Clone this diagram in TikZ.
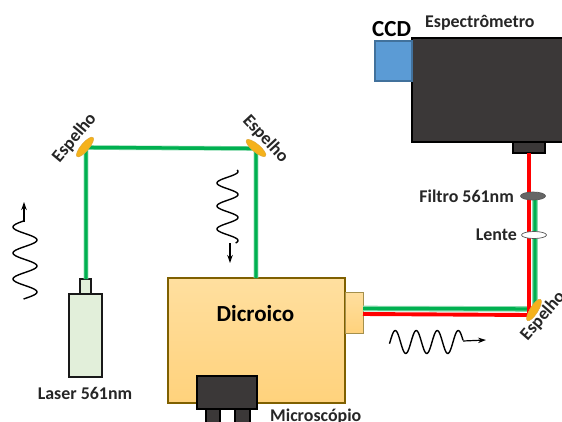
\documentclass[tikz,border=0pt]{standalone}
\usepackage{fontspec}
\setmainfont{Carlito}
\usetikzlibrary{arrows.meta,shapes.geometric}
\definecolor{beamgreen}{HTML}{00B050}
\definecolor{lasergreen}{HTML}{E2EFDA}
\definecolor{darkbox}{HTML}{3B3838}
\definecolor{ccdblue}{HTML}{5B9BD5}
\definecolor{ccdedge}{HTML}{41719C}
\definecolor{mirrorfill}{HTML}{F5B21B}
\definecolor{mirroredge}{HTML}{E0A93A}
\definecolor{goldedge}{HTML}{7F6000}
\definecolor{goldtop}{HTML}{FFDF9F}
\definecolor{goldbot}{HTML}{FFD27C}
\tikzset{
 lbl/.style={font=\bfseries\fontsize{17.9}{19}\selectfont,text=black!85,inner sep=0pt},
 biglbl/.style={font=\bfseries\fontsize{23}{24}\selectfont,text=black,inner sep=0pt},
 box/.style={anchor=north west,minimum width=#1,inner sep=0pt,outer sep=0pt},
 greenbeam/.style={draw=beamgreen,line width=3.4pt},
 redbeam/.style={draw=red,line width=3.9pt},
 mirrorshape/.style={ellipse,fill=mirrorfill,draw=mirroredge,line width=.5pt,minimum width=25pt,minimum height=8pt,inner sep=0pt,outer sep=0pt},
 wave/.style={draw=black,line width=1.4pt,line join=round},
 tip/.style={-{Stealth[length=8pt,width=5.5pt]},draw=black,line width=1.2pt}
}
\begin{document}
\begin{tikzpicture}[x=1pt,y=-1pt]
\useasboundingbox (0,0) rectangle (562,421);
% laser
\node[box=33pt,minimum height=83pt,fill=lasergreen,draw=black!90,line width=1.7pt] (laser) at (69,294) {};
\node[box=11pt,minimum height=15pt,fill=lasergreen,draw=black!90,line width=1.7pt] (head) at (80,279) {};
% dichroic
\node[box=177pt,minimum height=125pt,top color=goldtop,bottom color=goldbot,draw=goldedge,line width=1.7pt] (dic) at (168,278) {};
\node[box=18pt,minimum height=41pt,top color=goldtop,bottom color=goldbot,draw=goldedge!70,line width=.9pt] (port) at (345,292) {};
% microscope
\node[box=14pt,minimum height=20pt,fill=darkbox,draw=black,line width=1.7pt] (legA) at (206,405) {};
\node[box=15pt,minimum height=20pt,fill=darkbox,draw=black,line width=1.7pt] (legB) at (235,405) {};
\node[box=60pt,minimum height=33pt,fill=darkbox,draw=black,line width=1.7pt] (mic) at (197,376) {};
% spectrometer
\node[box=160pt,minimum height=104pt,fill=darkbox,draw=black,line width=1.7pt] (spec) at (412,38) {};
\node[box=32pt,minimum height=11pt,fill=darkbox,draw=black,line width=1.7pt] (slit) at (513,142) {};
\node[box=37pt,minimum height=40pt,fill=ccdblue,draw=ccdedge,line width=1.7pt] (ccd) at (375,41) {};
% beams
\coordinate (g0) at (86,279);
\coordinate (g1) at (86,147.5);
\coordinate (g2) at (256,148.5);
\coordinate (g3) at (256,278);
\draw[greenbeam,draw=beamgreen!45,line width=4.6pt] (g0) -- (g1) -- (g2) -- (g3);
\draw[greenbeam] (g0) -- (g1) -- (g2) -- (g3);
\coordinate (ga) at (363,308.5);
\coordinate (gb) at (535,309);
\coordinate (gc) at (535,196);
\coordinate (ra) at (363,314);
\coordinate (rb) at (529,315);
\coordinate (rc) at (529,153);
\draw[greenbeam,draw=beamgreen!45,line width=5.6pt] (ga) -- (gb) -- (gc);
\draw[greenbeam] (ga) -- (gb) -- (gc);
\draw[redbeam] (ra) -- (rb) -- (rc);
% mirrors
\node[mirrorshape,rotate=50] (m1) at (85,147) {};
\node[mirrorshape,rotate=-40] (m2) at (256,148) {};
\node[mirrorshape,rotate=58] (m3) at (534,310) {};
% filter and lens
\node[ellipse,minimum width=25pt,minimum height=8pt,inner sep=0pt,fill=black!60,draw=black!65,line width=.7pt] (filt) at (533,196) {};
\node[ellipse,minimum width=25pt,minimum height=7pt,inner sep=0pt,fill=white,draw=black!65,line width=.7pt] (lens) at (534,235) {};
% waves
\draw[wave,smooth,samples=100,domain=221:299] plot ({25-12*sin((\x-220.5)/26*360)},{\x});
\coordinate (wl1) at (24,222); \coordinate (wl2) at (24,202);
\draw[tip] (wl1) -- (wl2);
\draw[wave,smooth,samples=100,domain=170:243] plot ({227.5-10.5*sin((\x-177.25)/23*360)},{\x});
\coordinate (wm1) at (230,243); \coordinate (wm2) at (230,263);
\draw[tip] (wm1) -- (wm2);
\draw[wave,smooth,samples=100,domain=389.5:463] plot ({\x},{342-11.5*sin((\x-390)/21*360)});
\coordinate (wr1) at (463,341); \coordinate (wr2) at (486,340);
\draw[tip] (wr1) -- (wr2);
% labels
\node[lbl,rotate=50] (t1) at (74.5,138) {Espelho};
\node[lbl,rotate=-47] (t2) at (265.5,139) {Espelho};
\node[lbl,rotate=49] (t3) at (543,316) {Espelho};
\node[lbl,anchor=west] (t4) at (425,23) {Espectrômetro};
\node[biglbl,anchor=west] (t5) at (372,29) {CCD};
\node[lbl,anchor=east] (t6) at (514,196.5) {Filtro 561nm};
\node[lbl,anchor=east] (t7) at (517,235) {Lente};
\node[lbl] (t8) at (85,393) {Laser 561nm};
\node[biglbl] (t9) at (255.5,313.5) {Dicroico};
\node[lbl,anchor=west] (t10) at (270,416.5) {Microscópio};
\end{tikzpicture}
\end{document}
